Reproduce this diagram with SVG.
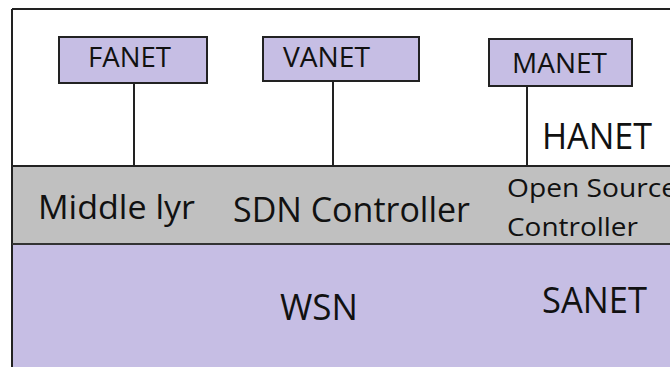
<svg xmlns="http://www.w3.org/2000/svg" width="670" height="367" viewBox="0 0 670 367">
  <style>
    .lbl { font-family: "Open Sans", "Liberation Sans", Arial, sans-serif; fill: #111; }
    .box { fill: #c6bee4; stroke: #222; stroke-width: 2; }
    .wire { stroke: #222; stroke-width: 2; fill: none; }
  </style>

  <!-- page background -->
  <rect x="0" y="0" width="670" height="367" fill="#ffffff"/>

  <!-- layer bands -->
  <g id="layers">
    <rect x="12" y="9" width="680" height="157" fill="#ffffff"/>
    <rect id="middle-layer" x="12" y="166" width="680" height="78" fill="#c0c0c0"/>
    <rect id="bottom-layer" x="12" y="244" width="680" height="130" fill="#c6bee4"/>
    <line x1="12" y1="9" x2="680" y2="9" stroke="#222" stroke-width="2"/>
    <line x1="12" y1="9" x2="12" y2="372" stroke="#222" stroke-width="2"/>
    <line x1="12" y1="166" x2="680" y2="166" stroke="#222" stroke-width="2"/>
    <line x1="12" y1="244" x2="680" y2="244" stroke="#333" stroke-width="2"/>
  </g>

  <!-- connectors from the network boxes down to the middle layer -->
  <g id="connectors">
    <line class="wire" x1="134" y1="83" x2="134" y2="166"/>
    <line class="wire" x1="333" y1="81" x2="333" y2="166"/>
    <line class="wire" x1="527" y1="86" x2="527" y2="166"/>
  </g>

  <g id="fanet">
    <rect class="box" x="59" y="37" width="148" height="46"/>
    <text class="lbl" x="88" y="67" font-size="27" textLength="83" lengthAdjust="spacingAndGlyphs">FANET</text>
  </g>

  <g id="vanet">
    <rect class="box" x="263" y="37" width="156" height="44"/>
    <text class="lbl" x="283" y="67" font-size="27" textLength="87" lengthAdjust="spacingAndGlyphs">VANET</text>
  </g>

  <g id="manet">
    <rect class="box" x="489" y="39" width="143" height="47"/>
    <text class="lbl" x="512" y="73" font-size="27" textLength="95" lengthAdjust="spacingAndGlyphs">MANET</text>
  </g>

  <g id="hanet">
    <text class="lbl" x="542" y="149" font-size="36" textLength="110" lengthAdjust="spacingAndGlyphs">HANET</text>
  </g>

  <g id="middle-lyr">
    <text class="lbl" x="38" y="219" font-size="33" textLength="157" lengthAdjust="spacingAndGlyphs">Middle lyr</text>
  </g>

  <g id="sdn-controller">
    <text class="lbl" x="233" y="222" font-size="34" textLength="237" lengthAdjust="spacingAndGlyphs">SDN Controller</text>
  </g>

  <g id="open-source-controller">
    <text class="lbl" x="507" y="197" font-size="26" textLength="170" lengthAdjust="spacingAndGlyphs">Open Source</text>
    <text class="lbl" x="507" y="236" font-size="26" textLength="131" lengthAdjust="spacingAndGlyphs">Controller</text>
  </g>

  <g id="wsn">
    <text class="lbl" x="280" y="320" font-size="36" textLength="78" lengthAdjust="spacingAndGlyphs">WSN</text>
  </g>

  <g id="sanet">
    <text class="lbl" x="542" y="313" font-size="36" textLength="105" lengthAdjust="spacingAndGlyphs">SANET</text>
  </g>
</svg>
